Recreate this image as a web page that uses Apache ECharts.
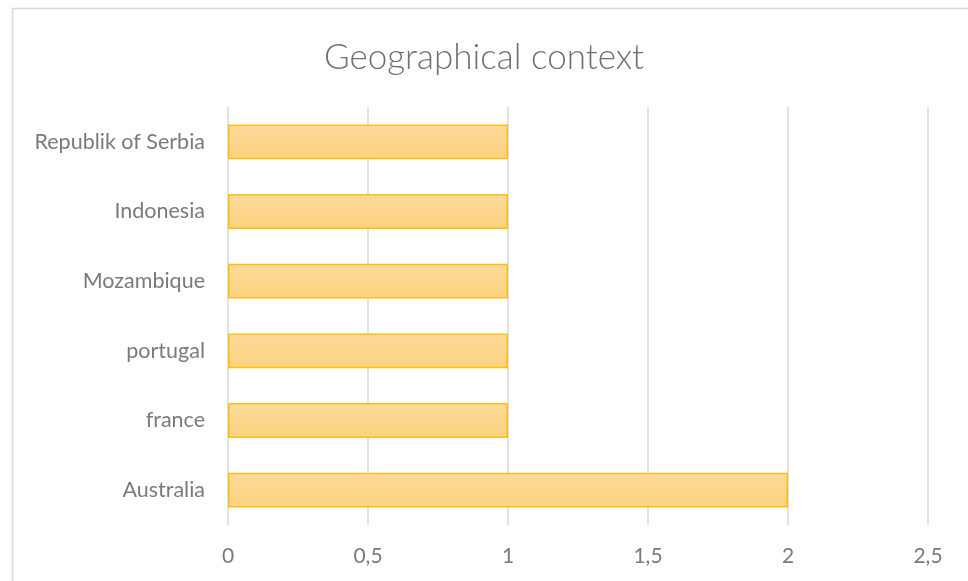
<!DOCTYPE html>
<html><head><meta charset="utf-8">
<script src="https://cdn.jsdelivr.net/npm/echarts@6/dist/echarts.min.js"></script>
<style>html,body{margin:0;padding:0;background:#fff}#c{width:968px;height:581px}</style>
</head><body><div id="c"></div>
<script>
const categories = ["Australia", "france", "portugal", "Mozambique", "Indonesia", "Republik of Serbia"];
const values = [2, 1, 1, 1, 1, 1];
const xTicks = [0, 0.5, 1, 1.5, 2, 2.5];
const titleText = "Geographical context";

const chart = echarts.init(document.getElementById('c'), null, {renderer: 'canvas'});
const font = "Lato, 'Open Sans', sans-serif";
chart.setOption({
  backgroundColor: '#fff',
  animation: false,
  graphic: [{
    type: 'rect', shape: {x: 12.5, y: 8.5, width: 1000, height: 1000},
    style: {fill: 'none', stroke: '#d9d9d9', lineWidth: 1.5}, silent: true
  }],
  title: {
    text: titleText, left: 'center', top: 35,
    textStyle: {fontFamily: font, fontSize: 35, fontWeight: 300, color: '#707070'}
  },
  grid: {left: 228, right: 40, top: 107, bottom: 56, containLabel: false},
  xAxis: {
    type: 'value', min: 0, max: 2.5, interval: 0.5,
    axisLine: {show: false}, axisTick: {show: false},
    splitLine: {show: true, lineStyle: {color: '#d9d9d9', width: 1.5}},
    axisLabel: {
      margin: 21, fontFamily: font, fontSize: 21, color: '#7a7a7a',
      formatter: v => xTicks.includes(v) ? String(v).replace('.', ',') : ''
    }
  },
  yAxis: {
    type: 'category', data: categories,
    axisLine: {show: false}, axisTick: {show: false},
    axisLabel: {margin: 23, fontFamily: font, fontSize: 21.5, color: '#7a7a7a'}
  },
  series: [{
    type: 'bar', data: values, barWidth: '50%',
    itemStyle: {
      color: new echarts.graphic.LinearGradient(0, 0, 0, 1, [
        {offset: 0, color: '#fedb9c'}, {offset: 1, color: '#fdd27e'}
      ]),
      borderColor: '#fbbf0f', borderWidth: 1.5
    }
  }]
});
</script></body></html>
